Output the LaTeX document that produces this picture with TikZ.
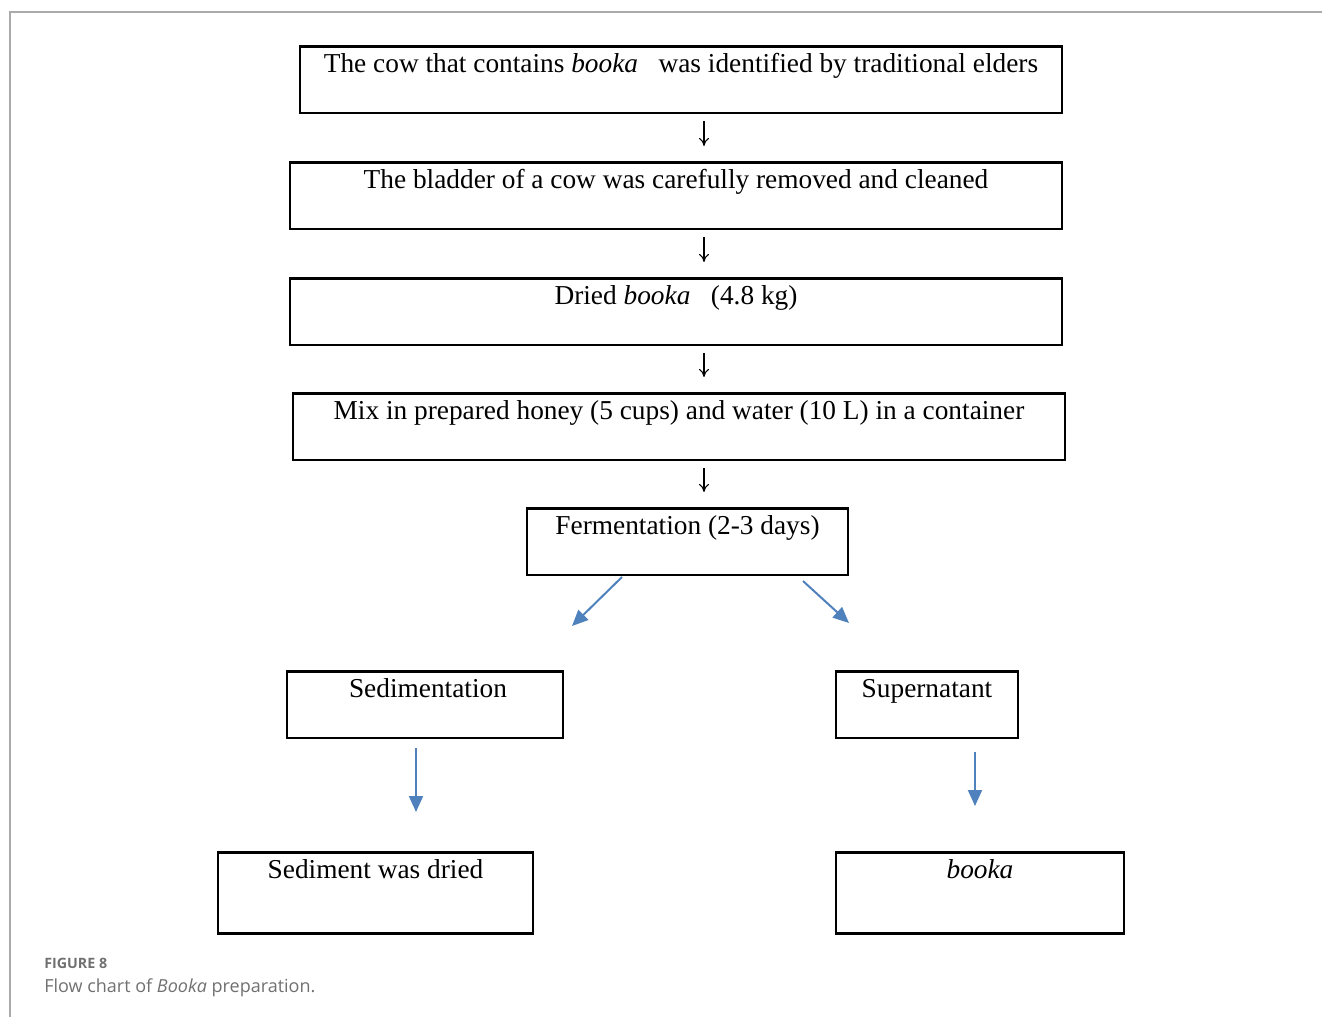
\documentclass[tikz,border=0pt]{standalone}
\usepackage{fontspec}
\setmainfont{Liberation Serif}
\newfontfamily\capfont{Open Sans}
\usetikzlibrary{arrows.meta}
\definecolor{ablue}{HTML}{4F81BD}
\definecolor{framegray}{HTML}{AAAAAA}
\definecolor{capgray}{HTML}{707070}
\begin{document}
\begin{tikzpicture}[x=0.75pt,y=-0.75pt,
  box/.style={draw,line width=1.9pt,inner xsep=0pt,inner ysep=0pt,anchor=north,
    font=\fontsize{20.5}{24}\selectfont,text height=19.5pt,text depth=30.5pt},
  tallbox/.style={box,text depth=41.5pt},
  dn/.style={line width=0.8pt,-{To[length=6pt,width=7.5pt]},shorten <=5.25pt,shorten >=11.25pt},
  bluearr/.style={draw=ablue,line width=1.5pt,-{Triangle[length=12pt,width=10.5pt]},color=ablue},
  frame/.style={draw=framegray,line width=1.1pt}]
\useasboundingbox (0,0) rectangle (1322,1017);
\draw[frame] (1322,12) -- (10,12) -- (10,1017);

\node[box,minimum width=0.75*762pt] (b1) at (681,45) {The cow that contains \textit{booka}\ \ \ was identified by traditional elders};
\node[box,minimum width=0.75*772pt] (b2) at (676,161) {The bladder of a cow was carefully removed and cleaned};
\node[box,minimum width=0.75*772pt] (b3) at (676,277) {Dried \textit{booka}\ \ \ (4.8 kg)};
\node[box,minimum width=0.75*772pt] (b4) at (679,392) {Mix in prepared honey (5 cups) and water (10 L) in a container};
\node[box,minimum width=0.75*321pt] (b5) at (687.5,507) {Fermentation (2-3 days)};
\node[box,minimum width=0.75*276pt] (b6) at (425,670) {\hspace*{4.5pt}Sedimentation};
\node[box,minimum width=0.75*182pt] (b7) at (927,670) {Supernatant};
\node[tallbox,minimum width=0.75*315pt] (b8) at (375.5,851) {Sediment was dried};
\node[tallbox,minimum width=0.75*288pt] (b9) at (980,851) {\textit{booka}};

\coordinate (ax) at (704,0);
\draw[dn] (b1.south -| ax) -- (b2.north -| ax);
\draw[dn] (b2.south -| ax) -- (b3.north -| ax);
\draw[dn] (b3.south -| ax) -- (b4.north -| ax);
\draw[dn] (b4.south -| ax) -- (b5.north -| ax);

\coordinate (l0) at (622,577);
\coordinate (l1) at (572,626);
\coordinate (r0) at (803,581);
\coordinate (r1) at (849,623);
\draw[bluearr] (l0) -- (l1);
\draw[bluearr] (r0) -- (r1);
\coordinate (s0) at (416,748);
\coordinate (s1) at (416,812);
\coordinate (t0) at (975,752);
\coordinate (t1) at (975,806);
\draw[bluearr] (s0) -- (s1);
\draw[bluearr] (t0) -- (t1);

\node[anchor=base west,inner sep=0pt,text=capgray,font=\capfont\bfseries\fontsize{10.7}{12}\selectfont] (fig) at (44,968) {FIGURE 8};
\node[anchor=base west,inner sep=0pt,text=capgray,font=\capfont\fontsize{13.5}{16}\selectfont] (cap) at (44,992) {Flow chart of \textit{Booka} preparation.};
\end{tikzpicture}
\end{document}
